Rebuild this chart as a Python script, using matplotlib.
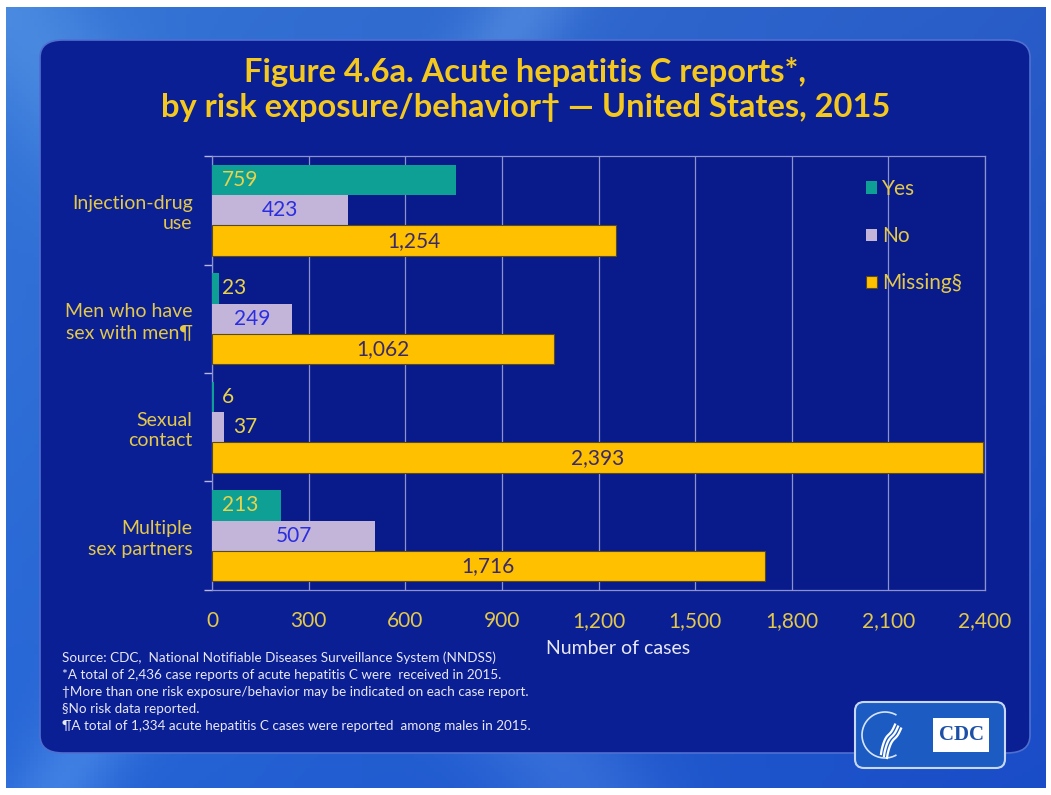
import matplotlib

matplotlib.use("Agg")
import matplotlib.pyplot as plt
import numpy as np
from matplotlib.patches import FancyBboxPatch, Arc, Rectangle

plt.rcParams["font.family"] = ["Lato", "DejaVu Sans"]

# ---- data -------------------------------------------------------------
categories = ["Injection-drug\nuse", "Men who have\nsex with men¶", "Sexual\ncontact",
              "Multiple\nsex partners"]
series = ["Yes", "No", "Missing§"]
yes_vals = [759, 23, 6, 213]
no_vals = [423, 249, 37, 507]
missing_vals = [1254, 1062, 2393, 1716]
xticks = [0, 300, 600, 900, 1200, 1500, 1800, 2100, 2400]

footnotes = [
    "Source: CDC,  National Notifiable Diseases Surveillance System (NNDSS)",
    "*A total of 2,436 case reports of acute hepatitis C were  received in 2015.",
    "\u2020More than one risk exposure/behavior may be indicated on each case report.",
    "§No risk data reported.",
    "¶A total of 1,334 acute hepatitis C cases were reported  among males in 2015.",
]

bar_colors = ["#0e9f95", "#c3b4d9", "#ffc000"]
label_colors = ["#e8d34a", "#2a2ee0", "#3b2a6a"]
GOLD = "#f5c81e"
TICK_GOLD = "#e3c84a"
W, H = 1051, 795

fig = plt.figure(figsize=(W / 100, H / 100), dpi=100, facecolor="white")

# ---- slide background ---------------------------------------------------
bg = fig.add_axes([6 / W, 7 / H, 1040 / W, 781 / H])
bg.set_axis_off()
yy, xx = np.mgrid[0:1:200j, 0:1:260j]
r = 0.10 + 0.05 * (1 - xx) + 0.06 * yy
g = 0.30 + 0.10 * (1 - xx) + 0.06 * yy
b = 0.78 + 0.06 * (1 - xx)
band = np.exp(-((xx + 0.55 * yy - 0.55) / 0.08) ** 2) * 0.08
band2 = np.exp(-((xx - 0.45 * yy - 0.05) / 0.05) ** 2) * 0.10
img = np.dstack([r + band + band2, g + band + band2, b + band / 2 + band2 / 2])
bg.imshow(np.clip(img, 0, 1), extent=[0, 1, 0, 1], aspect="auto", origin="lower")
bg.set_xlim(0, 1)
bg.set_ylim(0, 1)

# dark rounded panel, kept inside the background axes so it stays underneath
bg.add_patch(FancyBboxPatch((40 / W, (H - 753) / H), 990 / W, 713 / H,
                            boxstyle="round,pad=0,rounding_size=0.022",
                            transform=fig.transFigure, facecolor="#0b1f95",
                            edgecolor="#4f6fd0", linewidth=1.2, zorder=2))

# ---- title ------------------------------------------------------------
fig.text(0.5, 1 - 72 / H, "Figure 4.6a. Acute hepatitis C reports*,", ha="center",
         va="center", fontsize=23.5, fontweight="bold", color=GOLD)
fig.text(0.5, 1 - 108 / H, "by risk exposure/behavior\u2020 \u2014 United States, 2015",
         ha="center", va="center", fontsize=23.5, fontweight="bold", color=GOLD)

# ---- bar chart ----------------------------------------------------------
ax = fig.add_axes([212 / W, 1 - 590 / H, 773 / W, 434 / H])
ax.set_facecolor("#091a8a")
y = np.arange(len(categories))
h = 0.28
offsets = [-h, 0, h]
for vals, off, col, lcol in zip([yes_vals, no_vals, missing_vals], offsets,
                                bar_colors, label_colors):
    ec = "#5a4a20" if col == "#ffc000" else "none"
    bars = ax.barh(y + off, vals, height=h, color=col, edgecolor=ec,
                   linewidth=0.8, zorder=3)
    for bar, v in zip(bars, vals):
        yc = bar.get_y() + bar.get_height() / 2
        if col == "#0e9f95":
            ax.text(30, yc, f"{v:,}", ha="left", va="center", fontsize=15,
                    color=lcol, zorder=4)
        elif v < 100:
            # too short to hold the label: put it just past the bar, on the panel
            ax.text(v + 28, yc, f"{v:,}", ha="left", va="center",
                    fontsize=15, color=label_colors[0], zorder=4)
        else:
            ax.text(v / 2, yc, f"{v:,}", ha="center", va="center", fontsize=15,
                    color=lcol, zorder=4)

ax.set_xlim(0, 2400)
ax.set_ylim(3.5, -0.5)
ax.set_xticks(xticks)
ax.set_xticklabels([f"{t:,}" for t in xticks], fontsize=15, color=TICK_GOLD)
ax.tick_params(axis="x", length=0, pad=15)
ax.set_yticks(y)
ax.set_yticklabels(categories, fontsize=14, color=TICK_GOLD, ha="right",
                   linespacing=1.25)
ax.tick_params(axis="y", length=0, pad=14)
ax.set_yticks(np.arange(-0.5, 4, 1), minor=True)
ax.tick_params(axis="y", which="minor", length=6, color="#b8b8e0", width=1)
ax.grid(axis="x", color="#8c92d0", linewidth=0.9, zorder=0)
ax.set_axisbelow(True)
for s in ax.spines.values():
    s.set_color("#8c92d0")
    s.set_linewidth(0.9)
ax.set_xlabel("Number of cases", fontsize=14, color="#e8e8f4")
ax.xaxis.set_label_coords(0.525, -0.115)

leg = ax.legend(series, loc="upper right", bbox_to_anchor=(0.995, 0.99),
                frameon=False, fontsize=15, handlelength=0.55, handleheight=0.55,
                handletextpad=0.25, labelspacing=1.3, labelcolor=TICK_GOLD)

# ---- footnotes --------------------------------------------------------
for i, line in enumerate(footnotes):
    fig.text(62 / W, 1 - (658 + 17 * i) / H, line, ha="left", va="center",
             fontsize=9.7, color="#e8e8f4")

# ---- CDC badge ----------------------------------------------------------
logo = fig.add_axes([855 / W, (H - 768) / H, 150 / W, 66 / H])
logo.set_axis_off()
logo.set_xlim(0, 150)
logo.set_ylim(0, 66)
logo.add_patch(FancyBboxPatch((0, 0), 150, 66, boxstyle="round,pad=0,rounding_size=9",
                              facecolor="#1c5cc2", edgecolor="#c8d8f4", linewidth=1.5,
                              clip_on=False))
logo.add_patch(Arc((30, 33), 46, 46, theta1=60, theta2=300, color="#d8e4f8", lw=1.2))
for k in range(3):
    tt = np.linspace(0, 1, 30)
    logo.plot(26 + 14 * tt + 3 * k, 14 + 30 * tt ** 0.7 + np.sin(tt * 6) * 2 - 2 * k,
              color="white", lw=1.6)
logo.add_patch(Rectangle((78, 16), 56, 34, facecolor="white", edgecolor="none"))
logo.text(106, 33, "CDC", ha="center", va="center", fontsize=15, fontweight="bold",
          family="Liberation Serif", color="#1c4fa8")

fig.savefig("out.png", dpi=100, facecolor="white")
